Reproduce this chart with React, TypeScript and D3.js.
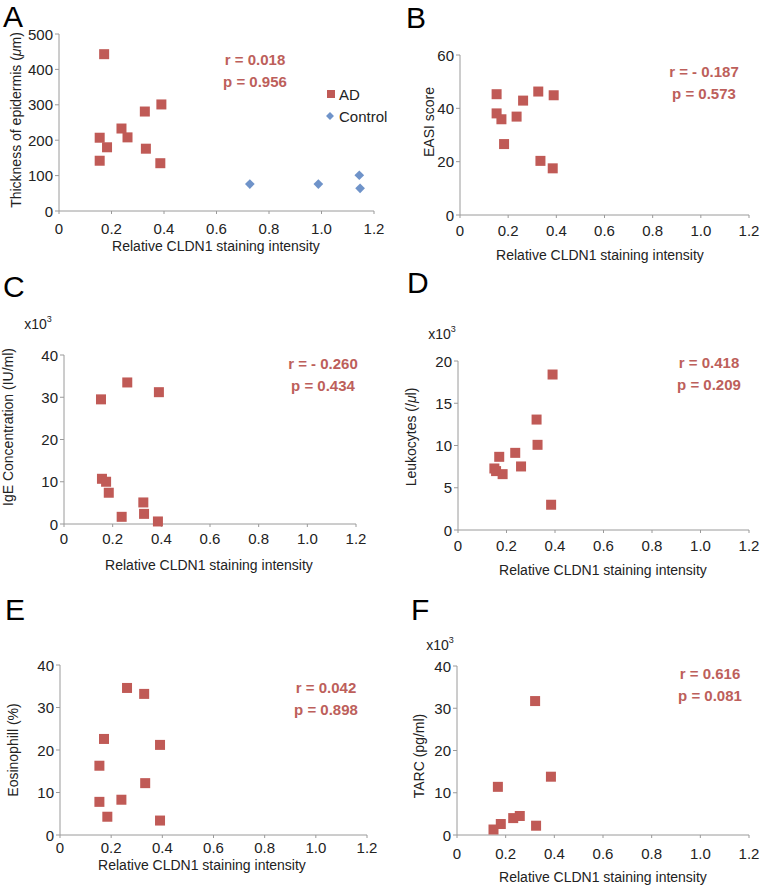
import React from "react";
import * as d3 from "d3";

// ---------- DATA ----------
const xTickValues = [0, 0.2, 0.4, 0.6, 0.8, 1.0, 1.2];
const xTickLabels = ["0", "0.2", "0.4", "0.6", "0.8", "1.0", "1.2"];

const cldnA = [0.172, 0.155, 0.155, 0.183, 0.238, 0.261, 0.327, 0.331, 0.39, 0.386];
const thicknessAD = [443, 207, 142, 180, 233, 208, 281, 176, 301, 135];
const cldnControl = [0.727, 0.988, 1.144, 1.147];
const thicknessControl = [76, 76, 101, 64];

const cldnB = [0.152, 0.152, 0.172, 0.183, 0.235, 0.262, 0.325, 0.334, 0.389, 0.385];
const easiScore = [45.3, 38.1, 35.9, 26.6, 36.9, 42.9, 46.3, 20.3, 44.9, 17.5];

const cldnC = [0.152, 0.26, 0.39, 0.156, 0.173, 0.184, 0.326, 0.329, 0.237, 0.386];
const igeConc = [29.5, 33.5, 31.2, 10.7, 10.0, 7.4, 5.1, 2.4, 1.7, 0.6];

const cldnD = [0.39, 0.324, 0.328, 0.236, 0.17, 0.15, 0.157, 0.184, 0.26, 0.384];
const leukocytes = [18.4, 13.07, 10.08, 9.13, 8.66, 7.28, 6.97, 6.61, 7.52, 2.99];

const cldnE = [0.262, 0.329, 0.172, 0.391, 0.154, 0.333, 0.154, 0.24, 0.185, 0.391];
const eosinophil = [34.6, 33.2, 22.6, 21.2, 16.3, 12.2, 7.8, 8.3, 4.3, 3.4];

const cldnF = [0.321, 0.386, 0.168, 0.18, 0.15, 0.231, 0.258, 0.325];
const tarc = [31.7, 13.8, 11.4, 2.6, 1.3, 4.0, 4.5, 2.2];

const yTicksA = [0, 100, 200, 300, 400, 500];
const yTicksB = [0, 20, 40, 60];
const yTicksC = [0, 10, 20, 30, 40];
const yTicksD = [0, 5, 10, 15, 20];
const yTicksE = [0, 10, 20, 30, 40];
const yTicksF = [0, 10, 20, 30, 40];

const xTitle = "Relative CLDN1 staining intensity";
const legendLabels = ["AD", "Control"];

// ---------- STYLE ----------
const AD_COLOR = "#c05a56";
const CTRL_COLOR = "#6f93c9";
const STAT_COLOR = "#bd5f5b";
const AXIS_COLOR = "#9a9a9a";
const TEXT_COLOR = "#222";
const FONT = "'Liberation Sans', Arial, Helvetica, sans-serif";

type Panel = {
  letter: string;
  letterPos: [number, number];
  left: number; right: number; top: number; bottom: number;
  yMax: number; yTicks: number[];
  xs: number[]; ys: number[];
  yTitle: React.ReactNode;
  yTitlePos: [number, number];
  xTitlePos: [number, number];
  tickDy: number;
  r: string; p: string; statPos: [number, number];
  x10?: [number, number];
  control?: { xs: number[]; ys: number[] };
};

const mu = "\u03bc";

const panels: Panel[] = [
  {
    letter: "A", letterPos: [3, 27],
    left: 59, right: 374, top: 34, bottom: 211,
    yMax: 500, yTicks: yTicksA, xs: cldnA, ys: thicknessAD,
    yTitle: <>Thickness of epidermis (<tspan fontStyle="italic">{mu}</tspan>m)</>,
    yTitlePos: [16, 120], xTitlePos: [216, 246], tickDy: 17,
    r: "r = 0.018", p: "p = 0.956", statPos: [255, 59],
    control: { xs: cldnControl, ys: thicknessControl },
  },
  {
    letter: "B", letterPos: [406, 28],
    left: 460, right: 749, top: 55, bottom: 215,
    yMax: 60, yTicks: yTicksB, xs: cldnB, ys: easiScore,
    yTitle: "EASI score",
    yTitlePos: [429, 122], xTitlePos: [600, 255], tickDy: 15,
    r: "r = - 0.187", p: "p = 0.573", statPos: [704, 71],
  },
  {
    letter: "C", letterPos: [3, 297],
    left: 64, right: 356, top: 355, bottom: 524,
    yMax: 40, yTicks: yTicksC, xs: cldnC, ys: igeConc,
    yTitle: "IgE Concentration (IU/ml)",
    yTitlePos: [8, 427], xTitlePos: [209, 565], tickDy: 14,
    r: "r = - 0.260", p: "p = 0.434", statPos: [323, 363],
    x10: [38, 324],
  },
  {
    letter: "D", letterPos: [407, 293],
    left: 458, right: 749, top: 361, bottom: 530,
    yMax: 20, yTicks: yTicksD, xs: cldnD, ys: leukocytes,
    yTitle: <>Leukocytes (/<tspan fontStyle="italic">{mu}</tspan>l)</>,
    yTitlePos: [411, 437], xTitlePos: [603, 570], tickDy: 15,
    r: "r = 0.418", p: "p = 0.209", statPos: [709, 362],
    x10: [442, 334],
  },
  {
    letter: "E", letterPos: [5, 620],
    left: 60, right: 367, top: 665, bottom: 835,
    yMax: 40, yTicks: yTicksE, xs: cldnE, ys: eosinophil,
    yTitle: "Eosinophill (%)",
    yTitlePos: [13, 750], xTitlePos: [202, 865], tickDy: 12,
    r: "r = 0.042", p: "p = 0.898", statPos: [326, 687],
  },
  {
    letter: "F", letterPos: [411, 620],
    left: 457, right: 749, top: 666, bottom: 835,
    yMax: 40, yTicks: yTicksF, xs: cldnF, ys: tarc,
    yTitle: "TARC (pg/ml)",
    yTitlePos: [419, 756], xTitlePos: [603, 877], tickDy: 18,
    r: "r = 0.616", p: "p = 0.081", statPos: [710, 673],
    x10: [440, 645],
  },
];

const SQ = 10;
const diamond = d3.symbol().type(d3.symbolDiamond2).size(60)() as string;

function PanelView({ pn }: { pn: Panel }) {
  const x = d3.scaleLinear().domain([0, 1.2]).range([pn.left, pn.right]);
  const y = d3.scaleLinear().domain([0, pn.yMax]).range([pn.bottom, pn.top]);
  return (
    <g>
      <text x={pn.letterPos[0]} y={pn.letterPos[1]} fontSize={30} fill="#000">{pn.letter}</text>
      {/* axes */}
      <line x1={pn.left} x2={pn.left} y1={pn.top} y2={pn.bottom} stroke={AXIS_COLOR} strokeWidth={1} />
      <line x1={pn.left} x2={pn.right} y1={pn.bottom} y2={pn.bottom} stroke={AXIS_COLOR} strokeWidth={1} />
      {pn.yTicks.map((t) => (
        <g key={"y" + t}>
          <line x1={pn.left - 4} x2={pn.left} y1={y(t)} y2={y(t)} stroke={AXIS_COLOR} />
          <text x={pn.left - 6} y={y(t)} textAnchor="end" dominantBaseline="central" fontSize={15} fill={TEXT_COLOR}>{t}</text>
        </g>
      ))}
      {xTickValues.map((t, i) => (
        <g key={"x" + t}>
          <line x1={x(t)} x2={x(t)} y1={pn.bottom} y2={pn.bottom + 3} stroke={AXIS_COLOR} />
          <text x={x(t)} y={pn.bottom + pn.tickDy} textAnchor="middle" dominantBaseline="central" fontSize={15} fill={TEXT_COLOR}>{xTickLabels[i]}</text>
        </g>
      ))}
      <text x={pn.xTitlePos[0]} y={pn.xTitlePos[1]} textAnchor="middle" dominantBaseline="central" fontSize={14} fill={TEXT_COLOR}>{xTitle}</text>
      <text transform={`translate(${pn.yTitlePos[0]},${pn.yTitlePos[1]}) rotate(-90)`} textAnchor="middle" dominantBaseline="central" fontSize={14} fill={TEXT_COLOR}>{pn.yTitle}</text>
      {pn.x10 && (
        <text x={pn.x10[0]} y={pn.x10[1]} textAnchor="middle" dominantBaseline="central" fontSize={14} fill={TEXT_COLOR}>
          x10<tspan fontSize={9} dy={-5}>3</tspan>
        </text>
      )}
      {/* stats */}
      <text x={pn.statPos[0]} y={pn.statPos[1]} textAnchor="middle" dominantBaseline="central" fontSize={15} fontWeight="bold" fill={STAT_COLOR}>{pn.r}</text>
      <text x={pn.statPos[0]} y={pn.statPos[1] + 22} textAnchor="middle" dominantBaseline="central" fontSize={15} fontWeight="bold" fill={STAT_COLOR}>{pn.p}</text>
      {/* points */}
      {pn.control && pn.control.xs.map((v, i) => (
        <path key={"c" + i} d={diamond} transform={`translate(${x(v)},${y(pn.control!.ys[i])})`} fill={CTRL_COLOR} />
      ))}
      {pn.xs.map((v, i) => (
        <rect key={"p" + i} x={x(v) - SQ / 2} y={y(pn.ys[i]) - SQ / 2} width={SQ} height={SQ} fill={AD_COLOR} />
      ))}
    </g>
  );
}

export default function App() {
  return (
    <svg width={762} height={886} style={{ position: "absolute", left: 0, top: 0, background: "#fff" }} fontFamily={FONT}>
      <rect width={762} height={886} fill="#fff" />
      {panels.map((pn) => <PanelView key={pn.letter} pn={pn} />)}
      {/* legend for A */}
      <rect x={327} y={90} width={8} height={8} fill={AD_COLOR} />
      <text x={339} y={94} dominantBaseline="central" fontSize={15} fill={TEXT_COLOR}>{legendLabels[0]}</text>
      <path d={d3.symbol().type(d3.symbolDiamond2).size(40)() as string} transform="translate(330,116)" fill={CTRL_COLOR} />
      <text x={339} y={116} dominantBaseline="central" fontSize={15} fill={TEXT_COLOR}>{legendLabels[1]}</text>
    </svg>
  );
}
